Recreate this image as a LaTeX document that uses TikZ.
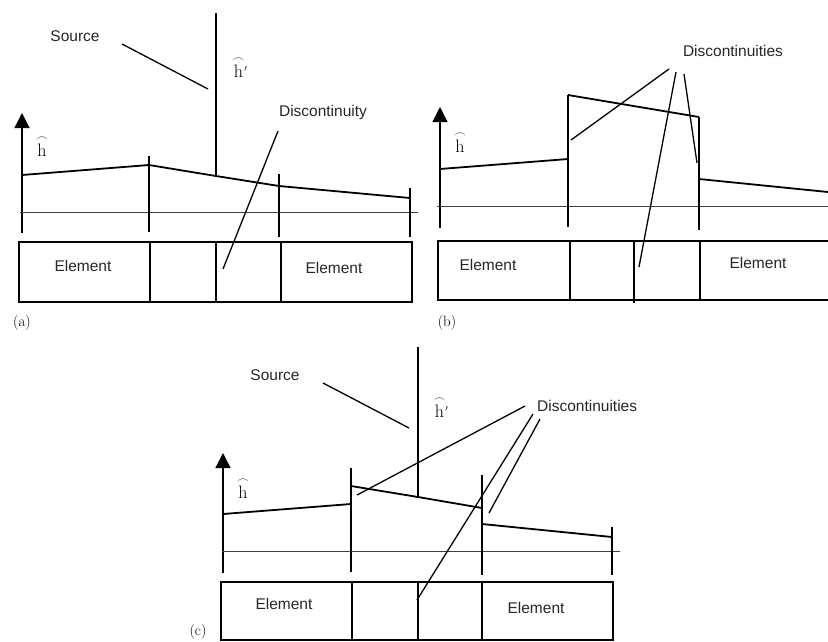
\documentclass[tikz,border=0pt]{standalone}
\usepackage{fontspec}
\usepackage{amsmath}
\setsansfont{Liberation Sans}
\usetikzlibrary{arrows.meta}
\begin{document}
\begin{tikzpicture}[x=1pt,y=-1pt,
  lbl/.style={font=\sffamily\fontsize{15.5}{18}\selectfont, text=black!85, inner sep=0pt},
  hlab/.style={font=\fontsize{18}{20}\selectfont, inner sep=0pt},
  plab/.style={font=\fontsize{15}{17}\selectfont, inner sep=0pt},
  axisarrow/.style={line width=1.2pt, -{Triangle[width=15pt,length=15pt]}},
  baseline/.style={line width=1pt, black!75},
  tick/.style={line width=1.1pt},
  curve/.style={line width=1.8pt, line join=round},
  spike/.style={line width=1.9pt},
  box/.style={line width=2.4pt},
  leader/.style={line width=1.3pt}]
\useasboundingbox (0,0) rectangle (828,641);

% ================= (a) =================
\coordinate (aA0) at (22,233); \coordinate (aA1) at (22,113);
\draw[axisarrow] (aA0) -- (aA1);
\node[hlab] (ha) at (42,146) {$\overset{\frown}{\mathrm{h}}$};
\draw[baseline] (20,212) -- (418,212);
\draw[tick] (149,156) -- (149,232);
\draw[tick] (279,174) -- (279,237);
\draw[tick] (410,188) -- (410,237);
\coordinate (aS) at (216,176);
\draw[curve] (22,175) -- (149,165) -- (aS) -- (279,186) -- (410,198);
\coordinate (aStop) at (216,13);
\draw[spike] (aStop) -- (aS);
\node[hlab] (hpa) at (240,67) {$\overset{\frown}{\mathrm{h}}{}^{\scriptscriptstyle\prime}$};
\node[lbl] (srca) at (75,36) {Source};
\coordinate (srca1) at (122,44); \coordinate (srca2) at (208,89);
\draw[leader] (srca1) -- (srca2);
\node[lbl] (disca) at (323,112) {Discontinuity};
\coordinate (disca1) at (278,131); \coordinate (disca2) at (223,269);
\draw[leader] (disca1) -- (disca2);
\draw[box] (19,242) rectangle (412,302);
\draw[box] (150,242) -- (150,302);
\draw[box] (216,242) -- (216,302);
\draw[box] (281,242) -- (281,302);
\node[lbl] (ea1) at (83,266) {Element};
\node[lbl] (ea2) at (334,268) {Element};
\node[plab] (pa) at (22,323) {(a)};

% ================= (b) =================
\coordinate (bA0) at (440,228); \coordinate (bA1) at (440,107);
\draw[axisarrow] (bA0) -- (bA1);
\node[hlab] (hb) at (460,142) {$\overset{\frown}{\mathrm{h}}$};
\draw[baseline] (437,206) -- (828,206);
\draw[tick] (568,95) -- (568,227);
\draw[tick] (699,117) -- (699,230);
\draw[curve] (440,169) -- (568,159);
\draw[curve] (568,95) -- (699,117);
\draw[curve] (699,179) -- (828,192);
\node[lbl] (discb) at (733,51) {Discontinuities};
\coordinate (db1) at (669,69);  \coordinate (db1e) at (571,140);
\coordinate (db2) at (676,72);  \coordinate (db2e) at (639,267);
\coordinate (db3) at (684,74);  \coordinate (db3e) at (697,163);
\draw[leader] (db1) -- (db1e);
\draw[leader] (db2) -- (db2e);
\draw[leader] (db3) -- (db3e);
\draw[box] (829,241) -- (438,241) -- (438,300) -- (829,300);
\draw[box] (570,241) -- (570,300);
\draw[box] (634,241) -- (634,303);
\draw[box] (700,241) -- (700,300);
\node[lbl] (eb1) at (488,265) {Element};
\node[lbl] (eb2) at (758,263) {Element};
\node[plab] (pb) at (447,323) {(b)};

% ================= (c) =================
\coordinate (cA0) at (223,573); \coordinate (cA1) at (223,453);
\draw[axisarrow] (cA0) -- (cA1);
\node[hlab] (hc) at (243,488) {$\overset{\frown}{\mathrm{h}}$};
\draw[baseline] (222,551) -- (620,551);
\draw[tick] (351,468) -- (351,572);
\draw[tick] (482,475) -- (482,575);
\draw[tick] (612,527) -- (612,575);
\coordinate (cS) at (418,497);
\draw[curve] (223,514) -- (351,504);
\draw[curve] (351,486) -- (cS) -- (482,508);
\draw[curve] (482,524) -- (612,537);
\coordinate (cStop) at (418,347);
\draw[spike] (cStop) -- (cS);
\node[hlab] (hpc) at (441,407) {$\overset{\frown}{\mathrm{h}}{}^{\scriptscriptstyle\prime}$};
\node[lbl] (srcc) at (275,375) {Source};
\coordinate (srcc1) at (323,383); \coordinate (srcc2) at (409,428);
\draw[leader] (srcc1) -- (srcc2);
\node[lbl, anchor=west] (discc) at (537,406) {Discontinuities};
\coordinate (dc1) at (525,406); \coordinate (dc1e) at (357,495);
\coordinate (dc2) at (533,414); \coordinate (dc2e) at (417,600);
\coordinate (dc3) at (540,419); \coordinate (dc3e) at (489,513);
\draw[leader] (dc1) -- (dc1e);
\draw[leader] (dc2) -- (dc2e);
\draw[leader] (dc3) -- (dc3e);
\draw[box] (221,641) -- (221,582) -- (613,582) -- (613,641);
\draw[box] (221,640) -- (613,640);
\draw[box] (352,582) -- (352,641);
\draw[box] (418,582) -- (418,641);
\draw[box] (482,582) -- (482,641);
\node[lbl] (ec1) at (284,604) {Element};
\node[lbl] (ec2) at (536,608) {Element};
\node[plab] (pc) at (198,632) {(c)};
\end{tikzpicture}
\end{document}
